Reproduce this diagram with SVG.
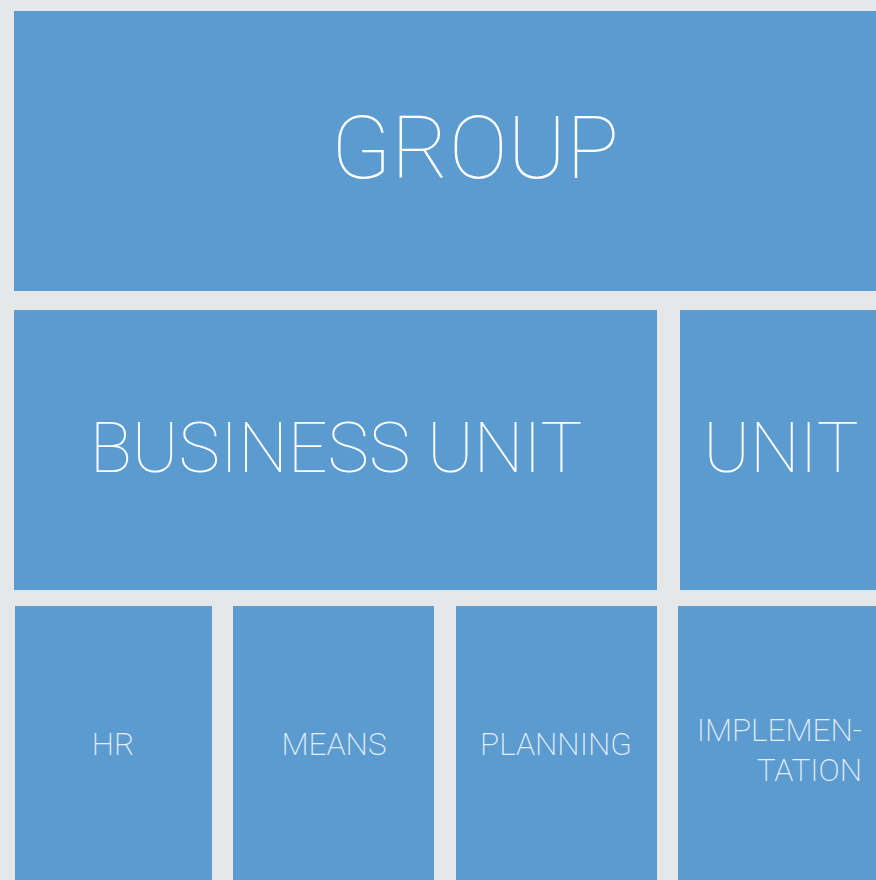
<svg xmlns="http://www.w3.org/2000/svg" width="876" height="880" viewBox="0 0 876 880">
<style>
.box{fill:#5b9bd0}
.t{fill:#ffffff;font-family:Roboto,"Liberation Sans",sans-serif;font-weight:100;text-anchor:middle}
.s{fill:#e4eef8;font-family:Roboto,"Liberation Sans",sans-serif;font-weight:200;font-size:31.5px;text-anchor:middle}
</style>
<rect width="876" height="880" fill="#e6e7e8"/>
<g id="group"><rect class="box" x="14" y="11" width="862" height="280"/><text class="t" x="475" y="178" font-size="88">GROUP</text></g>
<g id="business-unit"><rect class="box" x="14" y="310" width="643" height="280"/><text class="t" x="336" y="472" font-size="70">BUSINESS UNIT</text></g>
<g id="unit"><rect class="box" x="680" y="310" width="196" height="280"/><text class="t" x="781" y="472" font-size="70">UNIT</text></g>
<g id="hr"><rect class="box" x="15" y="606" width="197" height="274"/><text class="s" x="113" y="755">HR</text></g>
<g id="means"><rect class="box" x="233" y="606" width="201" height="274"/><text class="s" x="334" y="755">MEANS</text></g>
<g id="planning"><rect class="box" x="456" y="606" width="201" height="274"/><text class="s" x="556" y="755">PLANNING</text></g>
<g id="implementation"><rect class="box" x="678" y="606" width="198" height="274"/><text class="s" x="862" y="741" style="text-anchor:end">IMPLEMEN-</text><text class="s" x="862" y="781" style="text-anchor:end">TATION</text></g>
<g id="connectors"></g>
</svg>
